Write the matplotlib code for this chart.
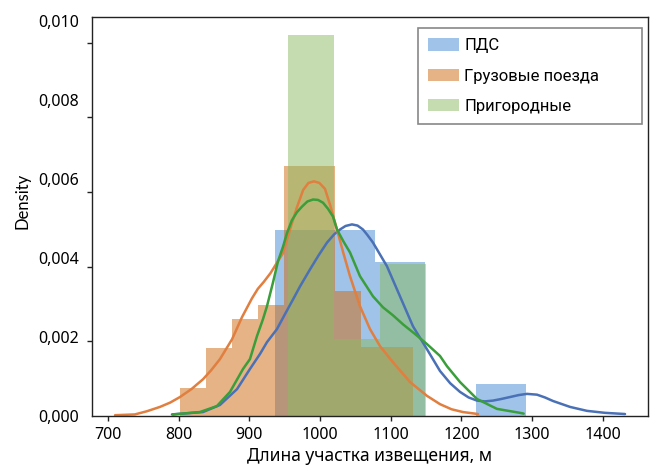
import numpy as np
import matplotlib
matplotlib.use("Agg")
import matplotlib.pyplot as plt
from matplotlib.patches import Patch

# ---------------- data ----------------
series_names = ["ПДС", "Грузовые поезда", "Пригородные"]

# histogram bin edges (m) and densities
pds_edges = [936, 1007, 1078, 1149, 1220, 1291]
pds_density = [0.00471, 0.00471, 0.00390, 0.0, 0.00081]

gruz_edges = [801.8, 838.4, 875.0, 911.7, 948.3, 984.9, 1021.5, 1058.1, 1094.8, 1131.4]
gruz_density = [0.00071, 0.00172, 0.00246, 0.00281, 0.00633, 0.00633, 0.00317, 0.00175, 0.00175]

prig_edges = [954.6, 1019.7, 1084.7, 1149.8]
prig_density = [0.00965, 0.00195, 0.00385]

# KDE curves
pds_kde_x = [790.5, 834.4, 858.4, 882.5, 900.8, 915, 924.9, 939, 950.4, 961.7, 971.6, 985.7,
             998, 1009.8, 1020, 1028.1, 1036, 1045.1, 1053, 1060.7, 1067, 1074.8, 1094.6, 1113,
             1131.4, 1151.2, 1169.6, 1184, 1197.9, 1210, 1221.9, 1233, 1244.6, 1256, 1268.6,
             1281, 1292.6, 1306.8, 1318, 1329.4, 1353.5, 1377.5, 1403, 1431.3]
pds_kde_y = [0.00004, 0.0001, 0.00028, 0.00068, 0.00119, 0.00157, 0.00187, 0.0022, 0.00258,
             0.00295, 0.00328, 0.00371, 0.00407, 0.00439, 0.0046, 0.00472, 0.00481, 0.00485,
             0.00482, 0.00472, 0.00458, 0.00439, 0.00379, 0.00303, 0.00227, 0.00169, 0.00114,
             0.00083, 0.00061, 0.00047, 0.00039, 0.00037, 0.00039, 0.00043, 0.00048, 0.00053,
             0.00056, 0.00054, 0.00047, 0.00038, 0.00023, 0.00013, 0.00008, 0.00005]

gruz_kde_x = [710, 738, 755, 773.5, 788, 801.8, 818, 834.4, 846, 858.4, 875.4, 889.5, 903.7,
              912, 920.6, 930, 939, 947.5, 957.4, 967, 976, 983.5, 991.4, 999, 1006.9, 1014,
              1023.9, 1033, 1042.3, 1056.4, 1070.6, 1084.7, 1103.1, 1127.2, 1151.2, 1169.6,
              1186, 1202.1, 1223.3]
gruz_kde_y = [0.00002, 0.00004, 0.00012, 0.00023, 0.00034, 0.00048, 0.00068, 0.00093, 0.00116,
              0.00144, 0.00194, 0.0025, 0.00298, 0.00322, 0.0034, 0.00362, 0.00388, 0.00412,
              0.00472, 0.00527, 0.00572, 0.0059, 0.00594, 0.0059, 0.00575, 0.00535, 0.00472,
              0.00412, 0.00354, 0.00278, 0.0022, 0.00177, 0.00136, 0.00086, 0.00051, 0.0003,
              0.00017, 0.0001, 0.00005]

prig_kde_x = [792, 830, 854, 872.6, 891, 900.8, 910.7, 919.2, 924.9, 933.4, 940.5, 947.5,
              953.2, 960, 967.3, 974.4, 982, 990, 997, 1004.1, 1011, 1018.2, 1023.9, 1033,
              1042.3, 1056.4, 1074.8, 1089, 1103, 1117.3, 1134, 1151.2, 1169.6, 1179.5, 1197.9,
              1222, 1250.2, 1282.7, 1288]
prig_kde_y = [0.00004, 0.0001, 0.00025, 0.00061, 0.00119, 0.00144, 0.00202, 0.00245, 0.00278,
              0.00338, 0.00392, 0.00428, 0.00463, 0.00495, 0.00516, 0.0053, 0.00543, 0.00548,
              0.00547, 0.0054, 0.00525, 0.00505, 0.00472, 0.00442, 0.00414, 0.00354, 0.00303,
              0.00275, 0.00255, 0.00232, 0.00208, 0.00182, 0.00152, 0.00126, 0.00086, 0.00043,
              0.00018, 0.00008, 0.00006]

x_ticks = [700, 800, 900, 1000, 1100, 1200, 1300, 1400]
y_tick_values = [0.000, 0.002, 0.004, 0.006, 0.008, 0.010]
y_tick_labels = ["0,000", "0,002", "0,004", "0,006", "0,008", "0,010"]
y_tick_marks = [0.0, 0.00189, 0.00378, 0.00567, 0.00756, 0.00945]

x_label = "Длина участка извещения, м"
y_label = "Density"

# ---------------- style ----------------
fill_colors = ["#4189d5", "#cd690f", "#8bbb61"]
line_colors = ["#4a70b6", "#e07f3f", "#3a9e3a"]
fill_alpha = 0.5

fig = plt.figure(figsize=(6.54, 4.66), dpi=100)
ax = fig.add_axes([92 / 654, 50 / 466, 556 / 654, 399 / 466])

hist_sets = [(pds_edges, pds_density), (gruz_edges, gruz_density), (prig_edges, prig_density)]
for (edges, dens), fc in zip(hist_sets, fill_colors):
    edges = np.asarray(edges)
    ax.bar(edges[:-1], dens, width=np.diff(edges), align="edge",
           color=fc, alpha=fill_alpha, linewidth=0)

kde_sets = [(pds_kde_x, pds_kde_y), (gruz_kde_x, gruz_kde_y), (prig_kde_x, prig_kde_y)]
for (kx, ky), lc in zip(kde_sets, line_colors):
    ax.plot(kx, ky, color=lc, linewidth=1.8, solid_joinstyle="round", solid_capstyle="round")

ax.set_xlim(677.4, 1463.8)
ax.set_ylim(0, 0.0101)

tick_font = dict(family="Noto Sans", size=11.5)
ax.set_xticks(x_ticks)
ax.set_xticklabels([str(v) for v in x_ticks], fontdict=tick_font)
ax.tick_params(axis="x", length=3.6, width=1.0, pad=4, color="#222222")

ax.set_yticks(y_tick_values)
ax.set_yticklabels(y_tick_labels, fontdict=tick_font)
ax.tick_params(axis="y", which="major", length=0, pad=9.5)
ax.set_yticks(y_tick_marks, minor=True)
ax.tick_params(axis="y", which="minor", length=3.6, width=1.0, color="#222222")

for s in ax.spines.values():
    s.set_linewidth(1.0)
    s.set_color("#222222")

ax.set_xlabel(x_label, fontdict=dict(family="Noto Sans", size=12.5), labelpad=3)
ax.set_ylabel(y_label, fontdict=dict(family="Lato", size=12))
ax.yaxis.set_label_coords((30 - 92) / 556, (416 - 201) / 399)

handles = [Patch(facecolor=fc, alpha=fill_alpha, linewidth=0) for fc in fill_colors]
lx0 = (418 - 92) / 556
lx1 = (642 - 92) / 556
ly1 = (416 - 28) / 399
leg = ax.legend(handles, series_names, loc="upper left",
                bbox_to_anchor=(lx0, ly1 - 0.3, lx1 - lx0, 0.3), mode="expand",
                borderaxespad=0,
                prop=dict(family="Roboto", size=12), fancybox=False, framealpha=1,
                edgecolor="#888888", handlelength=1.85, handleheight=0.75,
                handletextpad=0.3, labelspacing=0.92, borderpad=0.62)
leg.get_frame().set_linewidth(1.2)

fig.savefig("out.png", dpi=100)
